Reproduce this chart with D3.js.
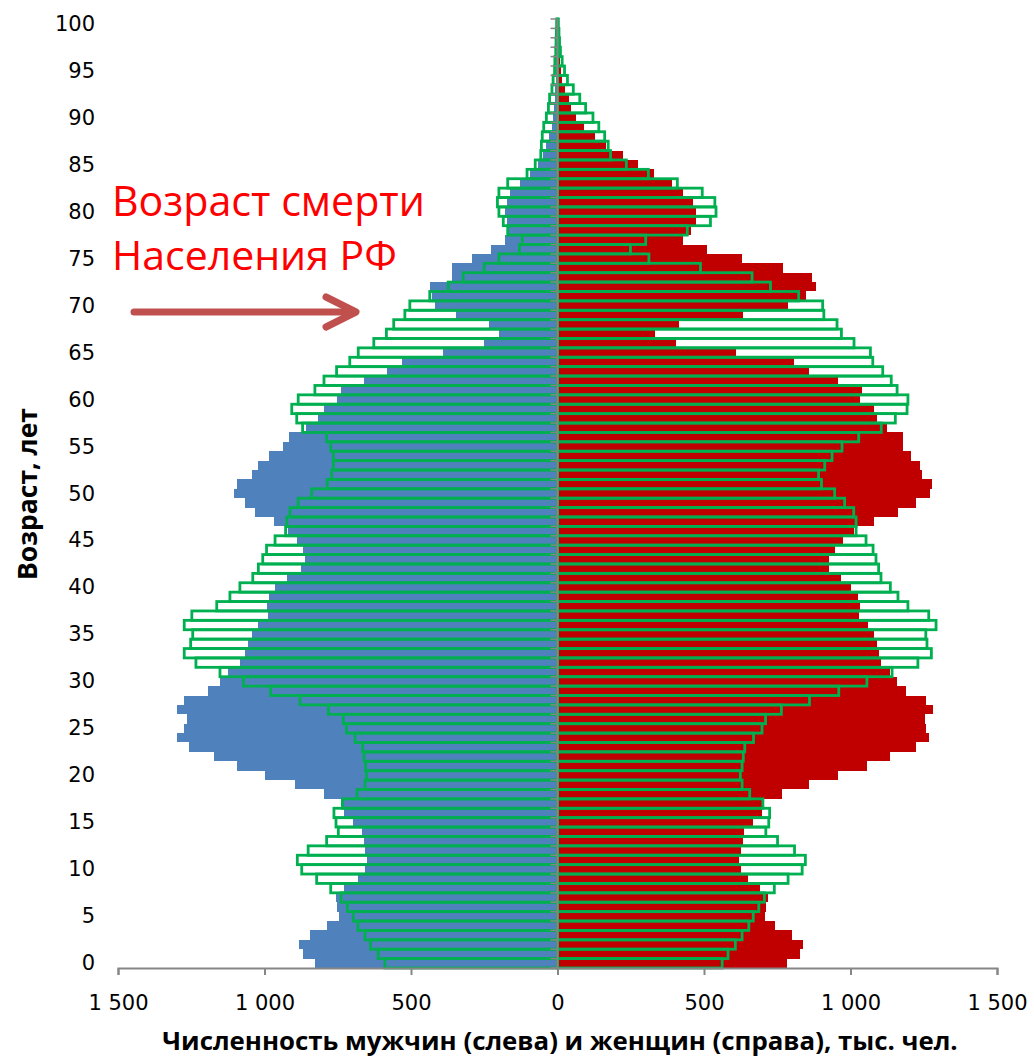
<!DOCTYPE html>
<html>
<head>
<meta charset="utf-8">
<script src="https://cdn.jsdelivr.net/npm/d3@7"></script>
<style>
  body { margin: 0; background: #fff; }
  svg { display: block; }
</style>
</head>
<body>
<div id="chart"></div>
<script>
// ages 0..100, values in thousands of people
const ages = d3.range(0, 101);

// filled bars: men (left, blue)
const menNow = [
  826, 870, 883, 845, 785, 747, 752, 756, 728, 681,
  656, 650, 656, 661, 667, 698, 728, 738, 798, 897,
  997, 1093, 1173, 1256, 1299, 1275, 1266, 1298, 1275, 1192,
  1152, 1124, 1082, 1065, 1056, 1044, 1022, 989, 991, 985,
  963, 923, 874, 863, 869, 889, 920, 966, 1031, 1067,
  1105, 1093, 1042, 1022, 983, 936, 917, 860, 818, 796,
  753, 740, 661, 581, 531, 391, 251, 200, 235, 347,
  417, 430, 434, 360, 360, 292, 228, 180, 172, 172,
  178, 172, 161, 127, 95, 68, 51, 40, 28, 19,
  14, 11, 10, 7, 5, 4, 3, 2, 1, 1, 1
];

// filled bars: women (right, red)
const womenNow = [
  784, 828, 839, 801, 743, 707, 711, 717, 691, 649,
  626, 618, 625, 632, 638, 666, 697, 700, 765, 859,
  958, 1055, 1136, 1223, 1268, 1256, 1253, 1282, 1259, 1189,
  1157, 1136, 1105, 1098, 1091, 1081, 1061, 1030, 1032, 1026,
  1000, 968, 927, 925, 947, 975, 1013, 1080, 1163, 1222,
  1270, 1278, 1245, 1236, 1208, 1180, 1180, 1126, 1091, 1080,
  1034, 1038, 956, 857, 807, 609, 405, 333, 413, 634,
  785, 847, 882, 868, 768, 631, 511, 430, 456, 473,
  473, 464, 430, 390, 330, 275, 223, 166, 128, 91,
  64, 45, 38, 26, 15, 11, 7, 4, 3, 2, 1
];

// outlined bars (green): men
const menPrev = [
  589, 612, 638, 657, 681, 697, 717, 739, 774, 822,
  873, 888, 851, 788, 748, 756, 763, 734, 684, 657,
  652, 655, 660, 665, 691, 720, 731, 782, 879, 979,
  1072, 1152, 1234, 1274, 1252, 1245, 1274, 1248, 1163, 1118,
  1084, 1040, 1021, 1006, 993, 964, 928, 924, 913, 885,
  839, 786, 771, 765, 765, 774, 788, 870, 890, 907,
  885, 828, 797, 754, 709, 680, 627, 584, 559, 521,
  504, 436, 373, 322, 250, 200, 130, 120, 170, 185,
  200, 205, 200, 170, 104, 76, 57, 55, 52, 47,
  38, 31, 27, 19, 15, 10, 9, 6, 5, 4, 3
];

// outlined bars (green): women
const womenPrev = [
  562, 582, 607, 630, 653, 668, 687, 706, 740, 787,
  835, 846, 809, 751, 711, 721, 724, 701, 656, 630,
  624, 630, 634, 639, 669, 698, 710, 764, 860, 960,
  1056, 1142, 1230, 1276, 1261, 1257, 1292, 1267, 1196, 1162,
  1136, 1104, 1096, 1087, 1077, 1053, 1019, 1019, 1011, 980,
  946, 901, 891, 912, 937, 971, 1028, 1105, 1153, 1193,
  1196, 1159, 1139, 1110, 1076, 1068, 1012, 969, 954, 909,
  905, 823, 727, 664, 488, 312, 249, 301, 443, 522,
  541, 537, 494, 409, 310, 235, 181, 173, 161, 141,
  121, 96, 76, 54, 34, 24, 16, 10, 7, 5, 3
];

const xTicks = [-1500, -1000, -500, 0, 500, 1000, 1500];
const ageTicks = d3.range(0, 101, 5);

const W = 1034, H = 1058;
const AXIS_GRAY = "#868686";
const LABEL_FONT = "'DejaVu Sans', sans-serif";
const TITLE_FONT = "'Open Sans', 'Noto Sans', sans-serif";

const svg = d3.select("#chart").append("svg")
  .attr("width", W)
  .attr("height", H);

const x = d3.scaleLinear().domain([-1500, 1500]).range([118, 997]);
const y = d3.scaleBand().domain(ages.slice().reverse()).range([19, 968]).padding(0);
const bw = y.bandwidth();

// filled bars
const filled = svg.append("g").attr("shape-rendering", "crispEdges");
filled.selectAll("rect.men").data(ages).join("rect")
  .attr("class", "men")
  .attr("x", d => x(-menNow[d]))
  .attr("y", d => y(d))
  .attr("width", d => x(0) - x(-menNow[d]))
  .attr("height", bw)
  .attr("fill", "#4f81bd");
filled.selectAll("rect.women").data(ages).join("rect")
  .attr("class", "women")
  .attr("x", x(0))
  .attr("y", d => y(d))
  .attr("width", d => x(womenNow[d]) - x(0))
  .attr("height", bw)
  .attr("fill", "#c00000");

// outlined bars
const outl = svg.append("g")
  .attr("fill", "none")
  .attr("stroke", "#00b050")
  .attr("stroke-width", 2.8);
outl.selectAll("rect.men").data(ages).join("rect")
  .attr("class", "men")
  .attr("x", d => x(-menPrev[d]))
  .attr("y", d => y(d))
  .attr("width", d => x(0) - x(-menPrev[d]))
  .attr("height", bw);
outl.selectAll("rect.women").data(ages).join("rect")
  .attr("class", "women")
  .attr("x", x(0))
  .attr("y", d => y(d))
  .attr("width", d => x(womenPrev[d]) - x(0))
  .attr("height", bw);

// central vertical axis with a tick at every band boundary
const cx = x(0);
const mid = svg.append("g").attr("stroke", AXIS_GRAY).attr("stroke-width", 2);
mid.append("line").attr("x1", cx).attr("x2", cx).attr("y1", 19).attr("y2", 968);
mid.selectAll("line.t").data(d3.range(0, 102)).join("line")
  .attr("class", "t")
  .attr("x1", cx - 7).attr("x2", cx)
  .attr("y1", k => 968 - k * bw).attr("y2", k => 968 - k * bw)
  .attr("stroke-width", 1.5);

// age labels
svg.append("g").selectAll("text").data(ageTicks).join("text")
  .attr("x", 95)
  .attr("y", d => y(d) + bw / 2)
  .attr("text-anchor", "end")
  .attr("dominant-baseline", "central")
  .attr("font-family", LABEL_FONT)
  .attr("font-size", 21)
  .attr("fill", "#000")
  .text(d => d);

// bottom axis
const ru = d3.formatLocale({ decimal: ",", thousands: " ", grouping: [3], currency: ["", ""] });
const fmt = ru.format(",");
const xAxis = svg.append("g")
  .attr("transform", "translate(0,968)")
  .call(d3.axisBottom(x).tickValues(xTicks).tickSize(7).tickPadding(20)
    .tickFormat(d => fmt(Math.abs(d))));
xAxis.select(".domain").attr("stroke", AXIS_GRAY).attr("stroke-width", 2);
xAxis.selectAll(".tick line").attr("stroke", AXIS_GRAY).attr("stroke-width", 2);
xAxis.selectAll(".tick text")
  .attr("font-family", LABEL_FONT)
  .attr("font-size", 21)
  .attr("fill", "#000");

function fitWidth(sel, target) {
  const w = sel.node().getComputedTextLength();
  const fs = parseFloat(sel.attr("font-size"));
  sel.attr("font-size", fs * target / w);
}

// axis titles
const xTitle = svg.append("text")
  .attr("x", 560).attr("y", 1050)
  .attr("text-anchor", "middle")
  .attr("font-family", TITLE_FONT)
  .attr("font-weight", "bold")
  .attr("font-size", 20)
  .text("Численность мужчин (слева) и женщин (справа), тыс. чел.");
fitWidth(xTitle, 796);

const yTitle = svg.append("text")
  .attr("transform", "translate(37,494) rotate(-90)")
  .attr("text-anchor", "middle")
  .attr("font-family", TITLE_FONT)
  .attr("font-weight", "bold")
  .attr("font-size", 20)
  .text("Возраст, лет");
fitWidth(yTitle, 172);

// annotation
const note1 = svg.append("text")
  .attr("x", 112).attr("y", 216)
  .attr("font-family", TITLE_FONT)
  .attr("font-size", 40)
  .attr("fill", "#ff0000")
  .text("Возраст смерти");
fitWidth(note1, 313);
const note2 = svg.append("text")
  .attr("x", 112).attr("y", 270)
  .attr("font-family", TITLE_FONT)
  .attr("font-size", 40)
  .attr("fill", "#ff0000")
  .text("Населения РФ");
fitWidth(note2, 285);

const arrow = svg.append("g")
  .attr("stroke", "#c0504d")
  .attr("stroke-width", 7)
  .attr("stroke-linecap", "round")
  .attr("stroke-linejoin", "round")
  .attr("fill", "none");
arrow.append("line").attr("x1", 134).attr("y1", 312).attr("x2", 354).attr("y2", 312);
arrow.append("polyline").attr("points", "326,297 356,312 326,327");
</script>
</body>
</html>
